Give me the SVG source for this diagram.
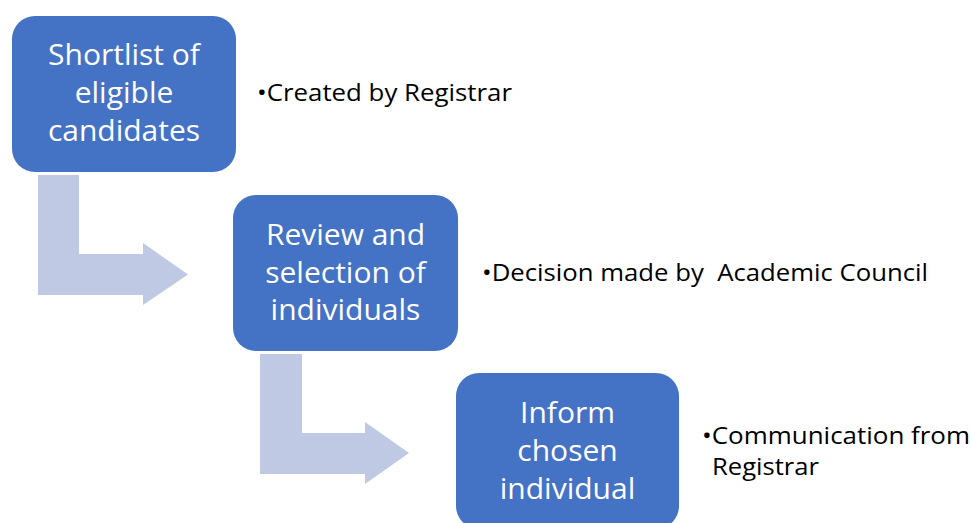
<svg xmlns="http://www.w3.org/2000/svg" width="971" height="523" viewBox="0 0 971 523">
<style>
.box{fill:#4472C4;}
.arr{fill:#BFC9E4;}
.bt{font-family:"Open Sans","Liberation Sans",sans-serif;font-size:30px;fill:#FFFFFF;text-anchor:middle;}
.nt{font-family:"Open Sans","Liberation Sans",sans-serif;font-size:24px;fill:#000000;}
</style>
<rect width="971" height="523" fill="#FFFFFF"/>
<g id="connectors">
<path class="arr" d="M38,175 H79 V254 H143 V243 L188,274.5 L143,305 V295 H38 Z"/>
<path class="arr" d="M260,354 H302 V433 H365 V422 L409,453 L365,484 V474 H260 Z"/>
</g>
<g id="node1">
<rect class="box" x="12" y="16" width="224" height="156" rx="23"/>
<text class="bt" x="124" y="65">Shortlist of</text>
<text class="bt" x="124" y="103">eligible</text>
<text class="bt" x="124" y="141">candidates</text>
</g>
<g id="note1"><text class="nt" x="257" y="101" textLength="255" lengthAdjust="spacingAndGlyphs">•Created by Registrar</text></g>
<g id="node2">
<rect class="box" x="233" y="195" width="225" height="156" rx="23"/>
<text class="bt" x="345.5" y="245">Review and</text>
<text class="bt" x="345.5" y="283">selection of</text>
<text class="bt" x="345.5" y="320">individuals</text>
</g>
<g id="note2"><text class="nt" x="482" y="281" textLength="446" lengthAdjust="spacingAndGlyphs" xml:space="preserve">•Decision made by  Academic Council</text></g>
<g id="node3">
<rect class="box" x="456" y="373" width="223" height="156" rx="23"/>
<text class="bt" x="567.5" y="423">Inform</text>
<text class="bt" x="567.5" y="461">chosen</text>
<text class="bt" x="567.5" y="499">individual</text>
</g>
<g id="note3">
<text class="nt" x="702" y="444" textLength="268" lengthAdjust="spacingAndGlyphs">•Communication from</text>
<text class="nt" x="712" y="475" textLength="107" lengthAdjust="spacingAndGlyphs">Registrar</text>
</g>
</svg>
